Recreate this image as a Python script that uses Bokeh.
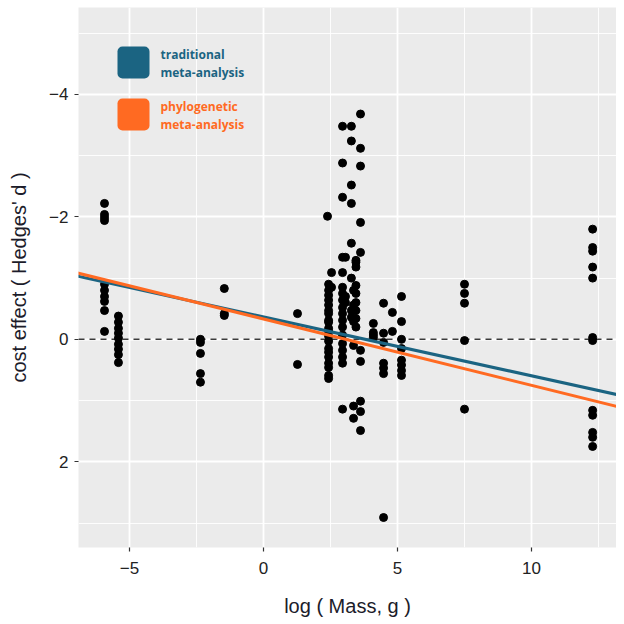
from bokeh.plotting import figure
from bokeh.models import Range1d, FixedTicker, Span, Slope, BoxAnnotation, Label, ColumnDataSource
from bokeh.embed import file_html
from bokeh.resources import INLINE

# ---- data: log(mass) columns and Hedges' d values ----
col_mass = [-5.93, -5.41, -2.35, -1.46, 1.27, 2.39, 2.43, 2.54, 2.95, 3.06,
            3.28, 3.36, 3.45, 3.62, 4.10, 4.48, 4.81, 5.15, 7.50, 12.28]
col_d = [
    [-2.22, -2.04, -1.99, -1.94, -0.90, -0.80, -0.70, -0.62, -0.47, -0.13],
    [-0.38, -0.28, -0.18, -0.10, -0.02, 0.08, 0.16, 0.25, 0.38],
    [0.00, 0.05, 0.23, 0.56, 0.70],
    [-0.83, -0.42, -0.39],
    [-0.42, 0.41],
    [-2.01],
    [-0.90, -0.80, -0.72, -0.64, -0.56, -0.47, -0.42, -0.31, -0.28, -0.18,
     -0.13, -0.05, 0.03, 0.15, 0.21, 0.29, 0.39, 0.46, 0.59, 0.64],
    [-1.09, -0.85],
    [-3.48, -2.88, -2.32, -1.34, -1.09, -0.85, -0.75, -0.64, -0.52, -0.42,
     -0.31, -0.20, -0.07, 0.07, 0.18, 0.29, 0.39, 1.14],
    [-1.34, -0.70, -0.60],
    [-3.48, -3.24, -2.52, -2.22, -1.57, -1.00, -0.47, -0.36],
    [-0.80, -0.56, -0.29, 0.10, 1.09, 1.29],
    [-1.29, -1.26, -1.18, -0.88, -0.75, -0.60, -0.47, -0.34, -0.20],
    [-3.68, -3.12, -2.83, -1.91, -1.42, 0.18, 0.36, 1.01, 1.18, 1.49],
    [-0.26, -0.11, -0.07, -0.03],
    [-0.59, -0.10, 0.05, 0.39, 0.47, 0.56, 2.91],
    [-0.44, -0.13],
    [-0.70, -0.29, 0.00, 0.15, 0.34, 0.42, 0.51, 0.59],
    [-0.90, -0.75, -0.59, 0.02, 1.14],
    [-1.80, -1.50, -1.44, -1.18, -1.00, -0.03, 0.02, 1.16, 1.24, 1.52, 1.60, 1.75],
]

# regression fits
trad_slope, trad_intercept = 0.0962, -0.366
phylo_slope, phylo_intercept = 0.1084, -0.332

x_ticks = [-5, 0, 5, 10]
x_minor = [-7.5, -2.5, 2.5, 7.5, 12.5]
y_ticks = [-4, -2, 0, 2]
y_minor = [-5, -3, -1, 1, 3]

legend_labels = ["traditional\nmeta-analysis", "phylogenetic\nmeta-analysis"]
blue = "#1b6482"
orange = "#ff6a22"

xs, ys = [], []
for m, ds in zip(col_mass, col_d):
    for d in ds:
        xs.append(m)
        ys.append(d)
src = ColumnDataSource(dict(x=xs, y=ys))

p = figure(frame_width=538, frame_height=540,
           x_range=Range1d(-6.9, 13.17), y_range=Range1d(3.4, -5.42),
           output_backend="svg", toolbar_location=None,
           min_border_left=78, min_border_right=0, min_border_top=7, min_border_bottom=68,
           background_fill_color="#EBEBEB", border_fill_color="white",
           outline_line_color=None,
           x_axis_label="log ( Mass, g )", y_axis_label="cost effect ( Hedges' d )")

xt = FixedTicker(ticks=x_ticks, minor_ticks=x_minor)
yt = FixedTicker(ticks=y_ticks, minor_ticks=y_minor)
p.xaxis.ticker = xt
p.xgrid.ticker = xt
p.yaxis.ticker = yt
p.ygrid.ticker = yt

def fmt(v):
    return ("\u2212" + str(abs(v))) if v < 0 else str(v)

p.xaxis.major_label_overrides = {v: fmt(v) for v in x_ticks}
p.yaxis.major_label_overrides = {v: fmt(v) for v in y_ticks}

p.axis.axis_line_color = None
p.axis.major_tick_line_color = "#333333"
p.axis.major_tick_line_width = 1.2
p.axis.major_tick_in = 0
p.axis.major_tick_out = 4
p.axis.minor_tick_line_color = None
p.axis.major_label_text_font = "Liberation Sans"
p.axis.major_label_text_font_size = "17px"
p.axis.major_label_text_color = "#222222"
p.axis.axis_label_text_font = "Liberation Sans"
p.axis.axis_label_text_font_size = "20px"
p.axis.axis_label_text_font_style = "normal"
p.axis.axis_label_text_color = "#1c1c2a"
p.xaxis.major_label_standoff = 10
p.yaxis.major_label_standoff = 6
p.xaxis.axis_label_standoff = 18
p.yaxis.axis_label_standoff = 16

p.grid.grid_line_color = "white"
p.grid.grid_line_width = 1.8
p.grid.minor_grid_line_color = "white"
p.grid.minor_grid_line_width = 0.9

p.add_layout(Span(location=0, dimension="width", line_color="#3a3a3a",
                  line_dash="6 5", line_width=1.5, level="underlay"))

p.scatter("x", "y", source=src, size=8, color="black")

p.add_layout(Slope(gradient=trad_slope, y_intercept=trad_intercept,
                   line_color=blue, line_width=3))
p.add_layout(Slope(gradient=phylo_slope, y_intercept=phylo_intercept,
                   line_color=orange, line_width=3))

# legend (screen units, relative to the frame: x from left, y from bottom)
for i, (lab, col) in enumerate(zip(legend_labels, [blue, orange])):
    top = 501 - i * 52
    p.add_layout(BoxAnnotation(left=39, right=71, top=top, bottom=top - 32,
                               left_units="screen", right_units="screen",
                               top_units="screen", bottom_units="screen",
                               fill_color=col, fill_alpha=1, line_color=None,
                               border_radius=5, level="overlay"))
    p.add_layout(Label(x=82, y=top + 1, x_units="screen", y_units="screen",
                       text=lab, text_color=col, text_font="Open Sans",
                       text_font_size="12px", text_font_style="bold",
                       text_baseline="top", text_line_height=1.1))

open("out.html", "w").write(file_html(p, INLINE))
